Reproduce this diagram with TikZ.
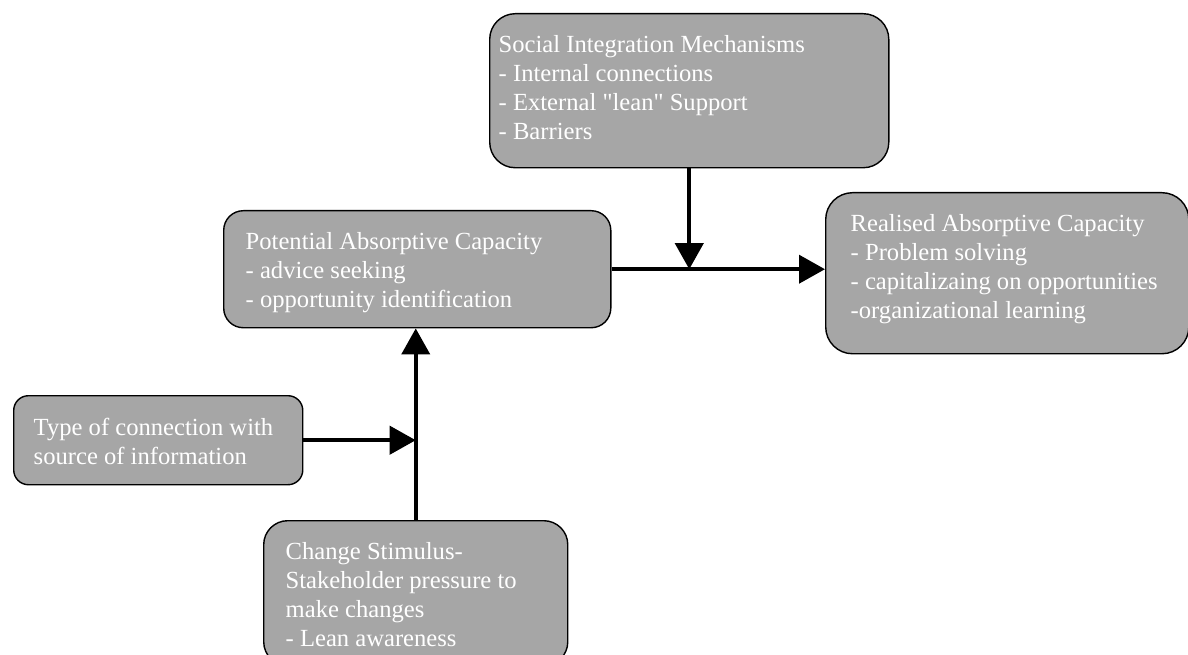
\documentclass[tikz,border=0pt]{standalone}
\usepackage{fontspec}
\setmainfont{Liberation Serif}
\usepackage{tikz}
\usetikzlibrary{positioning, arrows.meta}
\definecolor{boxgray}{HTML}{A6A6A6}
\newcommand{\boxfont}{\fontsize{17.5}{20.6}\selectfont}
\newcommand{\boxtxt}[3]{\parbox[c][#2][t]{#1}{\raggedright #3}}
\tikzset{
    panel/.style={rectangle, rounded corners=#1, draw=black, fill=boxgray, line width=1pt, text=white, font=\boxfont, inner xsep=0.55cm, inner ysep=0.55cm, anchor=north west},
    panel/.default=0.6cm,
    flow/.style={line width=2.8pt, -{Triangle[length=0.65cm, width=0.7cm]}},
}

\begin{document}
\begin{tikzpicture}[x=0.025cm, y=-0.025cm]
                        \useasboundingbox (0,0) rectangle (1188,655);
                        \node [panel=0.64cm, inner xsep=0.225cm] (soc) at (489,13) {\boxtxt{9.525cm}{2.75cm}{Social Integration Mechanisms\\- Internal connections\\- External \textquotedbl lean\textquotedbl{} Support\\- Barriers}};
                        \node [panel=0.49cm] (pot) at (223,210) {\boxtxt{8.575cm}{1.825cm}{Potential Absorptive Capacity\\- advice seeking\\- opportunity identification}};
                        \node [panel=0.67cm, inner xsep=0.625cm] (real) at (825,192) {\boxtxt{7.825cm}{2.925cm}{Realised Absorptive Capacity\\- Problem solving\\- capitalizaing on opportunities\\-organizational learning}};
                        \node [panel=0.37cm, inner xsep=0.5cm] (typ) at (13,395) {\boxtxt{6.225cm}{1.125cm}{Type of connection with\\source of information}};
                        \node [panel=0.6cm] (chg) at (263,520) {\boxtxt{6.5cm}{2.525cm}{Change Stimulus-\\Stakeholder pressure to\\make changes\\- Lean awareness}};
                        \draw[flow] (pot.east) -- (pot.east -| real.west);
                        \draw[flow] (soc.south) -- (soc.south |- pot.east);
                        \draw[flow] (chg.north) -- (chg.north |- pot.south);
                        \draw[flow] (typ.east) -- (typ.east -| chg.north);
                    \end{tikzpicture}
\end{document}
